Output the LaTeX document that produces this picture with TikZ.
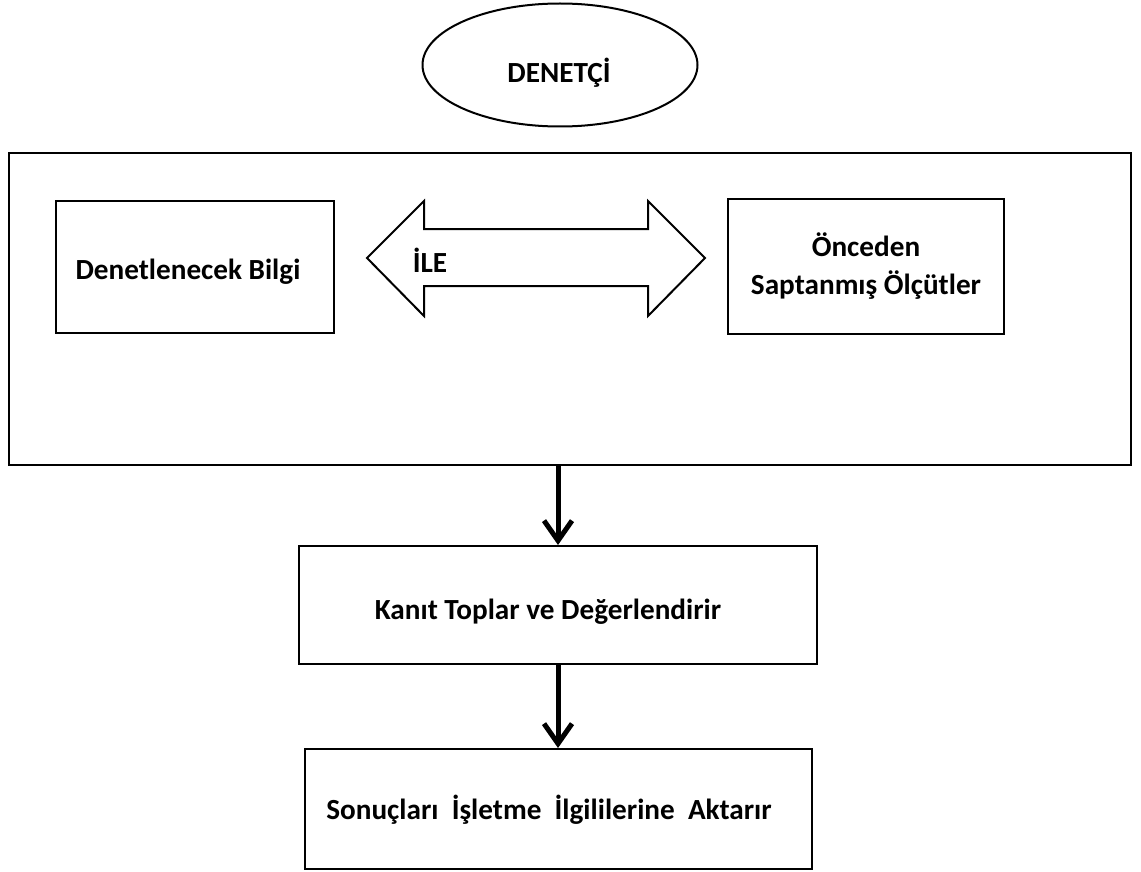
\documentclass[tikz,border=0pt]{standalone}
\usepackage{fontspec}
\setmainfont{Carlito}
\usetikzlibrary{arrows.meta,shapes.geometric}

\begin{document}
\begin{tikzpicture}[x=0.5pt, y=-0.5pt,
    every node/.style={font=\bfseries\fontsize{14.6}{19}\selectfont},
    box/.style={draw, line width=1pt, align=center},
    flow/.style={line width=2.5pt, -{Straight Barb[length=10pt,width=14pt,line width=2.5pt]}}]

    % constants
    \def\ya{258}
    \def\yb{229}
    \def\yc{286}

    \useasboundingbox (0,0) rectangle (1141,872);

    % auditor
    \node [draw, ellipse, line width=1pt, minimum width=137.5pt, minimum height=61.5pt] (denetci) at (560,65) {};
    \node (denetcitext) at (559,73) {DENETÇİ};

    % frame
    \node [box, minimum width=561pt, minimum height=156pt] (frame) at (570,309) {};

    \node [box, minimum width=139pt, minimum height=66pt] (bilgi) at (195,267) {};
    \node (bilgitext) at (188,272) {Denetlenecek Bilgi};

    \node [box, minimum width=138pt, minimum height=67.5pt] (olcut) at (866,266.5) {Önceden\\Saptanmış Ölçütler};

    % double arrow
    \draw [line width=1pt, line join=miter] (367,\ya) -- (424,201) -- (424,\yb) -- (648,\yb) -- (648,201) -- (705,\ya)
        -- (648,316) -- (648,\yc) -- (424,\yc) -- (424,316) -- cycle;
    \node (ile) at (430,260) {İLE};

    % steps
    \node [box, minimum width=259pt, minimum height=59pt] (kanit) at (558,605) {};
    \node (kanittext) at (548,612) {Kanıt Toplar ve Değerlendirir};
    \node [box, minimum width=253.5pt, minimum height=60pt] (sonuc) at (558.5,809) {};
    \node (sonuctext) at (549,810) {Sonuçları\ \ İşletme\ \ İlgililerine\ \ Aktarır};

    \draw [flow] (frame.south -| kanit.north) -- (kanit.north);
    \draw [flow] (kanit.south) -- (kanit.south |- sonuc.north);

\end{tikzpicture}
\end{document}
